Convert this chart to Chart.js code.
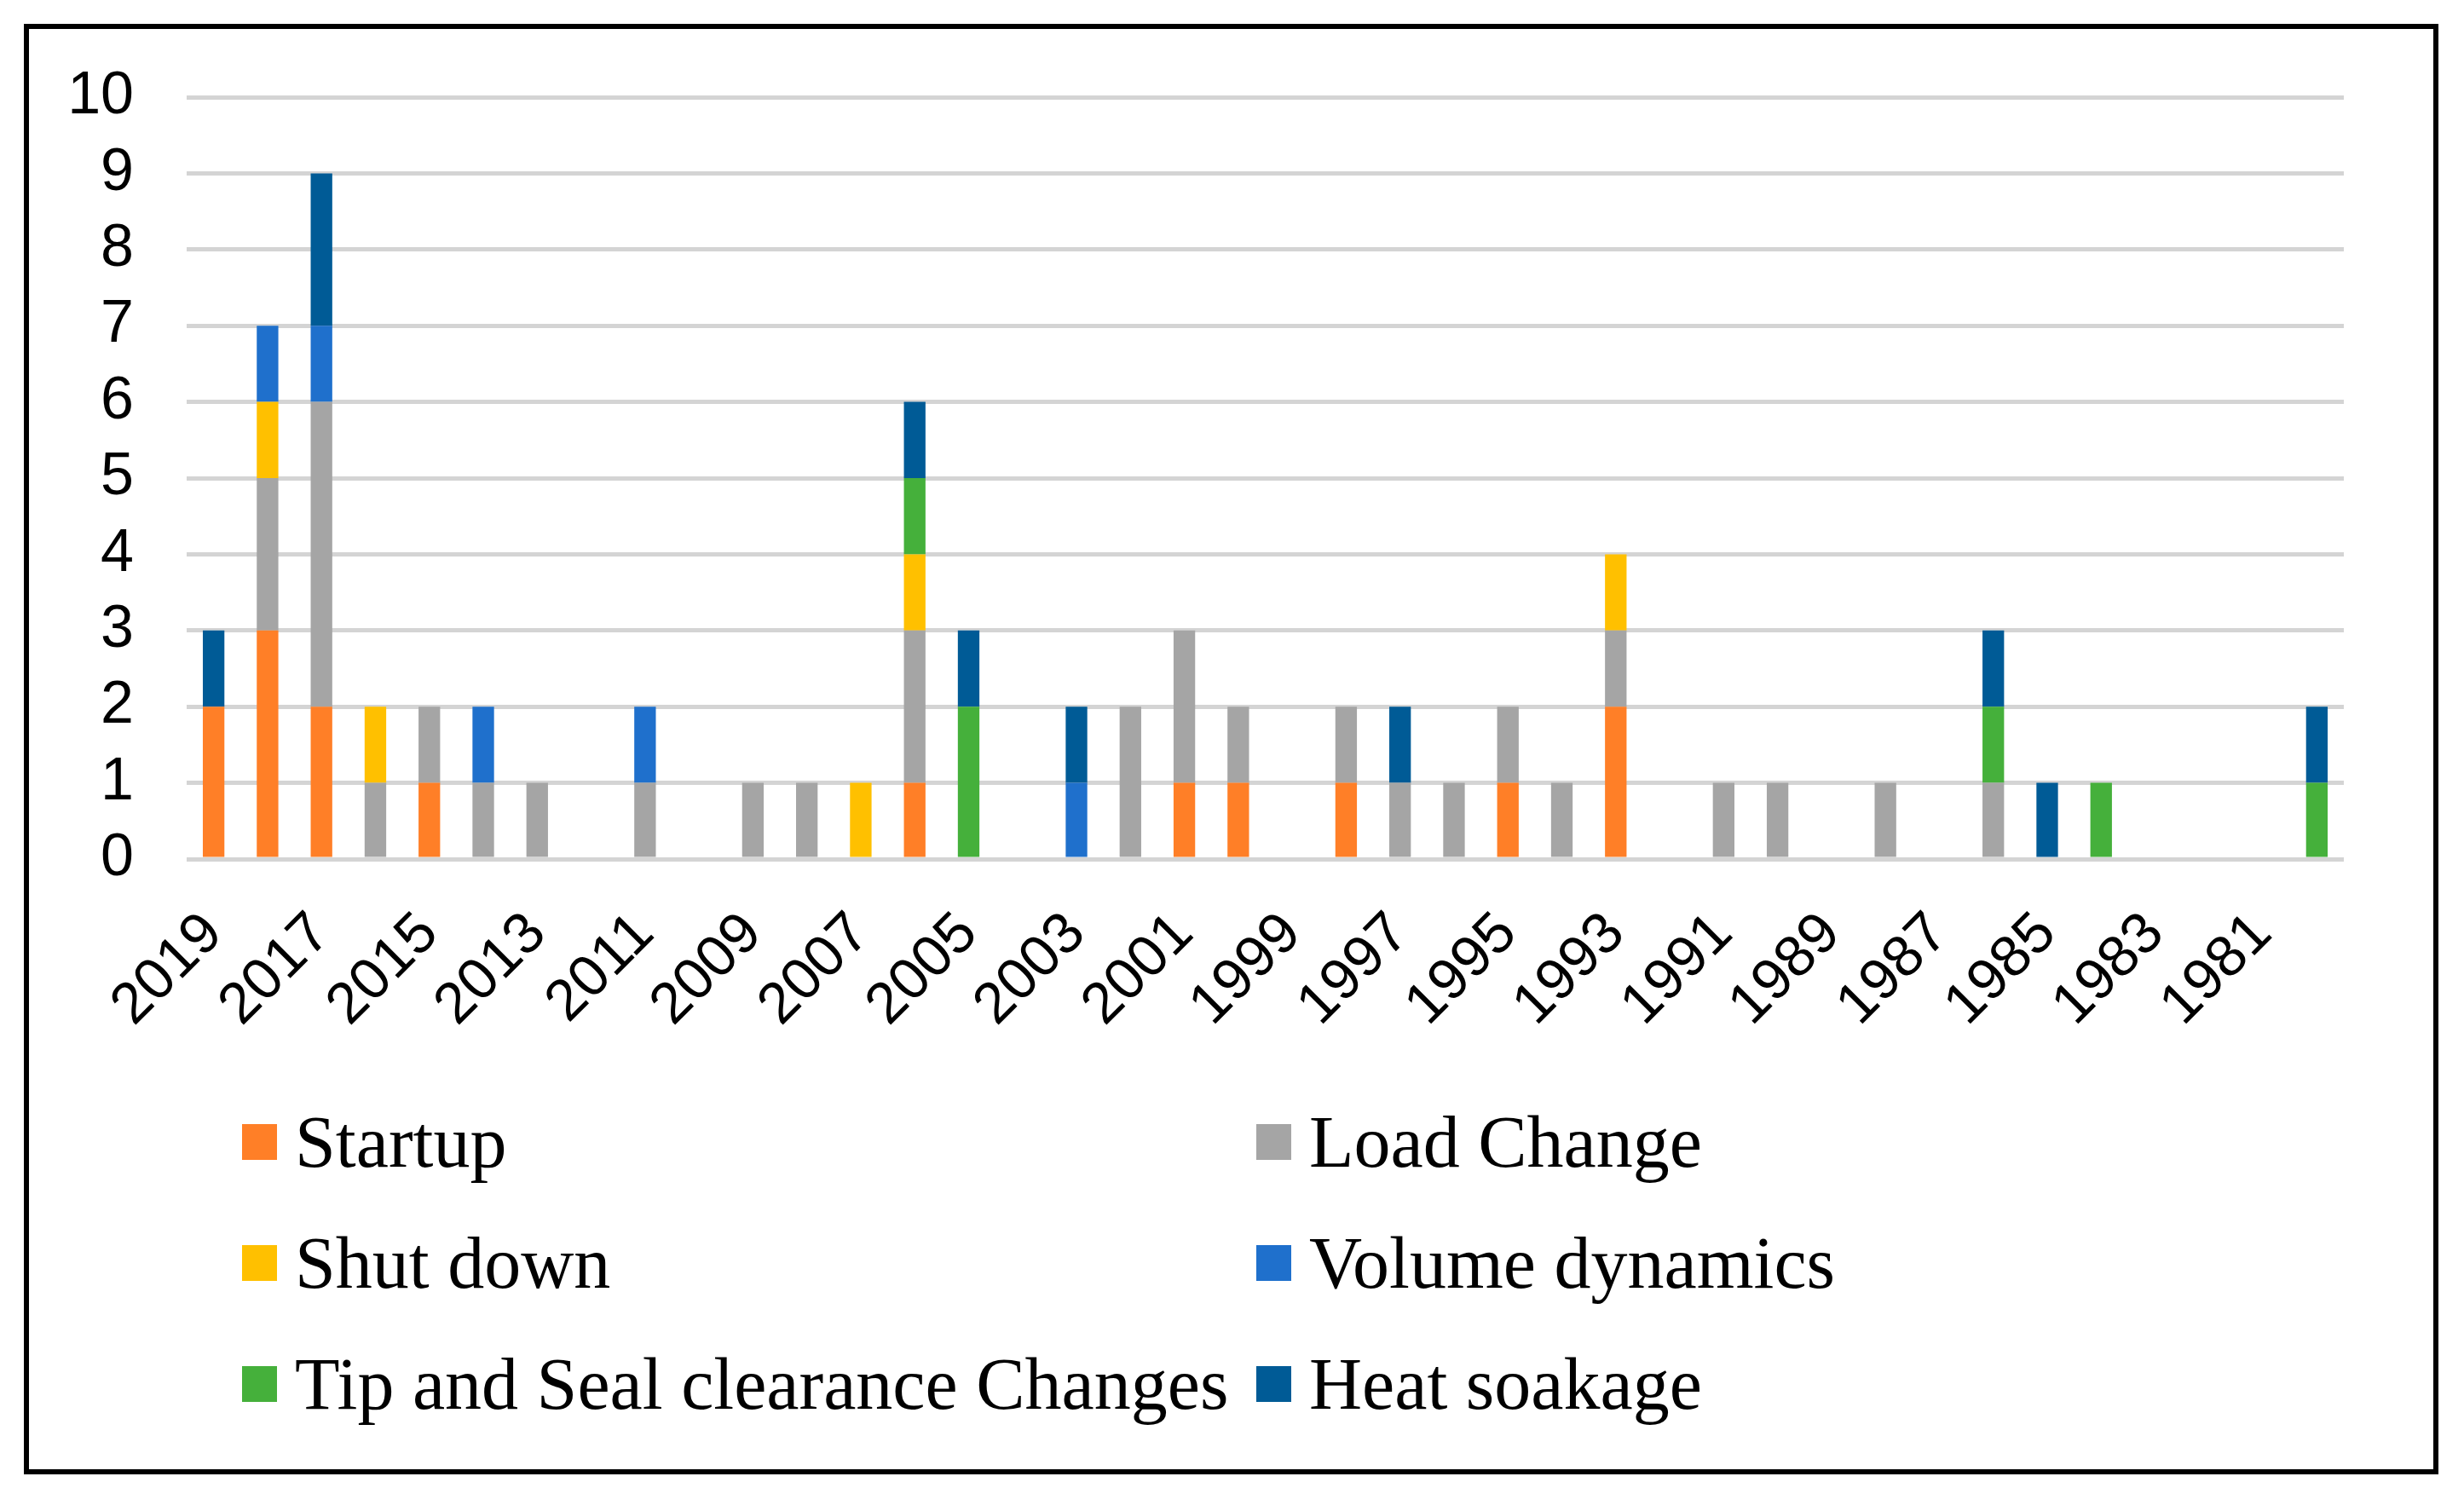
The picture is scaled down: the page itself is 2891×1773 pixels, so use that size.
<!DOCTYPE html>
<html>
<head>
<meta charset="utf-8">
<title>Events per year</title>
<script src="https://cdn.jsdelivr.net/npm/chart.js@4.4.1/dist/chart.umd.min.js"></script>
<style>
  html, body { margin: 0; padding: 0; background: #fff; }
  #page { position: relative; width: 2891px; height: 1773px; overflow: hidden; }
  #frame { position: absolute; left: 28px; top: 28px; width: 2833px; height: 1702px; border: 6px solid #000; box-sizing: border-box; }
  #chart-wrap { position: absolute; left: 40px; top: 40px; width: 2800px; height: 1260px; }
  .legend-item { position: absolute; height: 100px; line-height: 100px; display: flex; align-items: center;
    font-family: 'Liberation Serif', 'Times New Roman', serif; font-size: 86px; color: #000; white-space: nowrap; }
  .legend-box { width: 41px; height: 42px; margin-right: 21px; flex: none; }
</style>
</head>
<body>
<div id="page">
  <div id="frame"></div>
  <div id="chart-wrap"><canvas id="events-chart"></canvas></div>
  <div id="legend"></div>
</div>
<script>
// years, newest first (as on the axis)
const years = ['2019', '2018', '2017', '2016', '2015', '2014', '2013', '2012', '2011', '2010',
               '2009', '2008', '2007', '2006', '2005', '2004', '2003', '2002', '2001', '2000',
               '1999', '1998', '1997', '1996', '1995', '1994', '1993', '1992', '1991', '1990',
               '1989', '1988', '1987', '1986', '1985', '1984', '1983', '1982', '1981', '1980'];

const startup     = [2, 3, 2, 0, 1, 0, 0, 0, 0, 0,  0, 0, 0, 1, 0, 0, 0, 0, 1, 1,  0, 1, 0, 0, 1, 0, 2, 0, 0, 0,  0, 0, 0, 0, 0, 0, 0, 0, 0, 0];
const loadChange  = [0, 2, 4, 1, 1, 1, 1, 0, 1, 0,  1, 1, 0, 2, 0, 0, 0, 2, 2, 1,  0, 1, 1, 1, 1, 1, 1, 0, 1, 1,  0, 1, 0, 1, 0, 0, 0, 0, 0, 0];
const shutDown    = [0, 1, 0, 1, 0, 0, 0, 0, 0, 0,  0, 0, 1, 1, 0, 0, 0, 0, 0, 0,  0, 0, 0, 0, 0, 0, 1, 0, 0, 0,  0, 0, 0, 0, 0, 0, 0, 0, 0, 0];
const volumeDyn   = [0, 1, 1, 0, 0, 1, 0, 0, 1, 0,  0, 0, 0, 0, 0, 0, 1, 0, 0, 0,  0, 0, 0, 0, 0, 0, 0, 0, 0, 0,  0, 0, 0, 0, 0, 0, 0, 0, 0, 0];
const tipSeal     = [0, 0, 0, 0, 0, 0, 0, 0, 0, 0,  0, 0, 0, 1, 2, 0, 0, 0, 0, 0,  0, 0, 0, 0, 0, 0, 0, 0, 0, 0,  0, 0, 0, 1, 0, 1, 0, 0, 0, 1];
const heatSoakage = [1, 0, 2, 0, 0, 0, 0, 0, 0, 0,  0, 0, 0, 1, 1, 0, 1, 0, 0, 0,  0, 0, 1, 0, 0, 0, 0, 0, 0, 0,  0, 0, 0, 1, 1, 0, 0, 0, 0, 1];

const seriesNames = ['Startup', 'Load Change', 'Shut down', 'Volume dynamics', 'Tip and Seal clearance Changes', 'Heat soakage'];
const seriesColors = ['#FF7F27', '#A5A5A5', '#FFC000', '#1F70CC', '#45B03B', '#005B96'];
const seriesData = [startup, loadChange, shutDown, volumeDyn, tipSeal, heatSoakage];

const sansFont = "'Liberation Sans', Arial, sans-serif";

const datasets = seriesNames.map((name, i) => ({
    label: name,
    data: seriesData[i],
    backgroundColor: seriesColors[i],
    borderWidth: 0,
    categoryPercentage: 1,
    barPercentage: 0.4
}));

const chart = new Chart(document.getElementById('events-chart'), {
    type: 'bar',
    data: { labels: years, datasets: datasets },
    options: {
        responsive: true,
        maintainAspectRatio: false,
        animation: false,
        layout: { padding: { top: 74, right: 90, left: 0, bottom: 0 } },
        plugins: {
            legend: { display: false },
            tooltip: { enabled: false }
        },
        scales: {
            x: {
                stacked: true,
                grid: { display: false },
                border: { display: false },
                ticks: {
                    autoSkip: false,
                    minRotation: 45,
                    maxRotation: 45,
                    padding: 40,
                    labelOffset: 0,
                    color: '#000',
                    font: { family: sansFont, size: 68 },
                    callback: function (value, index) {
                        return index % 2 === 0 ? this.getLabelForValue(value) : '';
                    }
                },
                afterFit: scale => { scale.height = 292; }
            },
            y: {
                stacked: true,
                min: 0,
                max: 10,
                // invisible tick marks keep the labels away from the plot
                grid: { color: '#d4d4d4', lineWidth: 5, drawTicks: true, tickLength: 52, tickColor: 'rgba(0,0,0,0)' },
                border: { display: false },
                ticks: {
                    autoSkip: false,
                    stepSize: 1,
                    padding: 10,
                    color: '#000',
                    font: { family: sansFont, size: 70 }
                },
                afterFit: scale => { scale.width = 179; }
            }
        }
    }
});

// two-column legend under the plot, filled row by row
const legendEl = document.getElementById('legend');
const colLeft = [284, 1474];
const rowTop = [1290, 1432, 1574];
chart.data.datasets.forEach((ds, i) => {
    const item = document.createElement('div');
    item.className = 'legend-item';
    item.style.left = colLeft[i % 2] + 'px';
    item.style.top = rowTop[Math.floor(i / 2)] + 'px';
    const box = document.createElement('span');
    box.className = 'legend-box';
    box.style.background = ds.backgroundColor;
    const txt = document.createElement('span');
    txt.textContent = ds.label;
    item.appendChild(box);
    item.appendChild(txt);
    legendEl.appendChild(item);
});
</script>
</body>
</html>
